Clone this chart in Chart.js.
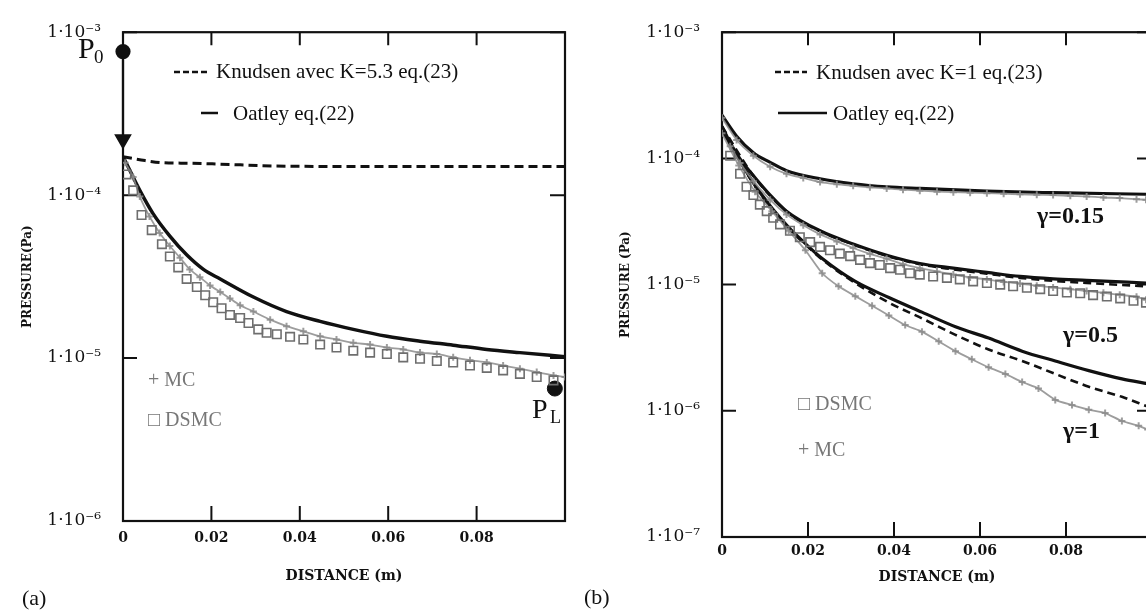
<!DOCTYPE html>
<html>
<head>
<meta charset="utf-8">
<script src="https://cdn.jsdelivr.net/npm/chart.js@4.4.1/dist/chart.umd.min.js"></script>
<style>
html, body { margin: 0; padding: 0; background: #fff; overflow: hidden; width: 1146px; height: 616px; }
#wrapA { position: absolute; left: 0; top: 0; width: 580px; height: 616px; }
#wrapB { position: absolute; left: 580px; top: 0; width: 600px; height: 616px; }
</style>
</head>
<body>
<div id="wrapA"><canvas id="chartA" width="580" height="616"></canvas></div>
<div id="wrapB"><canvas id="chartB" width="600" height="616"></canvas></div>
<script>
// axis ticks
const xTicks = [0, 0.02, 0.04, 0.06, 0.08, 0.1];
const xTickLabels = ['0', '0.02', '0.04', '0.06', '0.08', ''];
const yTicksA = [1e-6, 1e-5, 1e-4, 1e-3];
const yTickLabelsA = ['1·10⁻⁶', '1·10⁻⁵', '1·10⁻⁴', '1·10⁻³'];
const yTicksB = [1e-7, 1e-6, 1e-5, 1e-4, 1e-3];
const yTickLabelsB = ['1·10⁻⁷', '1·10⁻⁶', '1·10⁻⁵', '1·10⁻⁴', '1·10⁻³'];

// panel (a) : Knudsen K=5.3
const knudsenA_x = [0, 0.005, 0.009, 0.015, 0.022, 0.034, 0.05, 0.07, 0.1];
const knudsenA_p = [1.72e-4, 1.63e-4, 1.58e-4, 1.57e-4, 1.55e-4, 1.51e-4, 1.5e-4, 1.5e-4, 1.5e-4];
// panel (a) : Oatley
const oatleyA_x = [0, 0.0005, 0.0038, 0.0068, 0.0106, 0.0144, 0.0182, 0.022, 0.0295, 0.037, 0.0446, 0.0521, 0.0597, 0.0672, 0.0747, 0.0823, 0.0898, 0.1];
const oatleyA_p = [1.72e-4, 1.62e-4, 1.07e-4, 7.7e-5, 5.6e-5, 4.3e-5, 3.5e-5, 3.06e-5, 2.37e-5, 1.93e-5, 1.68e-5, 1.5e-5, 1.36e-5, 1.27e-5, 1.2e-5, 1.13e-5, 1.08e-5, 1.02e-5];
// panel (a) : MC
const mcA_x = [0.0005, 0.0023, 0.0038, 0.006, 0.0083, 0.0106, 0.0129, 0.0151, 0.0174, 0.0197, 0.022, 0.0242, 0.0265, 0.0295, 0.0333, 0.037, 0.0408, 0.0446, 0.0483, 0.0521, 0.0559, 0.0597, 0.0634, 0.0672, 0.071, 0.0747, 0.0785, 0.0823, 0.086, 0.0898, 0.0936, 0.0974, 0.1];
const mcA_p = [1.58e-4, 1.29e-4, 9.8e-5, 7.4e-5, 5.85e-5, 4.87e-5, 4.13e-5, 3.5e-5, 3.13e-5, 2.79e-5, 2.54e-5, 2.32e-5, 2.11e-5, 1.93e-5, 1.72e-5, 1.57e-5, 1.46e-5, 1.36e-5, 1.3e-5, 1.24e-5, 1.21e-5, 1.16e-5, 1.13e-5, 1.08e-5, 1.06e-5, 1.01e-5, 9.7e-6, 9.4e-6, 9.0e-6, 8.6e-6, 8.2e-6, 7.83e-6, 7.65e-6];
// panel (a) : DSMC
const dsmcA_x = [0.0008, 0.0023, 0.0042, 0.0065, 0.0088, 0.0106, 0.0125, 0.0144, 0.0167, 0.0186, 0.0204, 0.0223, 0.0242, 0.0265, 0.0284, 0.0306, 0.0325, 0.0348, 0.0378, 0.0408, 0.0446, 0.0483, 0.0521, 0.0559, 0.0597, 0.0634, 0.0672, 0.071, 0.0747, 0.0785, 0.0823, 0.086, 0.0898, 0.0936, 0.0974];
const dsmcA_p = [1.34e-4, 1.07e-4, 7.55e-5, 6.1e-5, 5.0e-5, 4.2e-5, 3.6e-5, 3.06e-5, 2.73e-5, 2.43e-5, 2.2e-5, 2.02e-5, 1.84e-5, 1.76e-5, 1.64e-5, 1.5e-5, 1.43e-5, 1.4e-5, 1.35e-5, 1.3e-5, 1.21e-5, 1.16e-5, 1.11e-5, 1.08e-5, 1.06e-5, 1.01e-5, 9.9e-6, 9.6e-6, 9.4e-6, 9.0e-6, 8.7e-6, 8.4e-6, 8.0e-6, 7.65e-6, 7.3e-6];
// panel (a) : P0 arrow and PL
const arrowA_x = [0, 0];
const arrowA_p = [7.6e-4, 2.2e-4];
const pointPL_x = [0.0977];
const pointPL_p = [6.5e-6];

// panel (b) : gamma = 0.15
const oatleyB15_x = [0, 0.0034, 0.0073, 0.0112, 0.015, 0.0228, 0.0305, 0.0383, 0.046, 0.0616, 0.077, 0.0986];
const oatleyB15_p = [2.2e-4, 1.5e-4, 1.11e-4, 9.3e-5, 8.0e-5, 6.9e-5, 6.3e-5, 5.95e-5, 5.78e-5, 5.5e-5, 5.35e-5, 5.2e-5];
const mcB15_x = [0, 0.0034, 0.0073, 0.0112, 0.015, 0.0189, 0.0228, 0.0267, 0.0305, 0.0344, 0.0383, 0.0421, 0.046, 0.05, 0.0538, 0.0577, 0.0616, 0.0655, 0.0693, 0.0732, 0.077, 0.081, 0.0848, 0.0887, 0.0925, 0.0964, 0.0986];
const mcB15_p = [2.1e-4, 1.4e-4, 1.05e-4, 8.6e-5, 7.55e-5, 7.0e-5, 6.5e-5, 6.25e-5, 6.07e-5, 5.9e-5, 5.78e-5, 5.65e-5, 5.55e-5, 5.45e-5, 5.4e-5, 5.35e-5, 5.3e-5, 5.25e-5, 5.2e-5, 5.15e-5, 5.13e-5, 5.05e-5, 5.0e-5, 4.9e-5, 4.85e-5, 4.75e-5, 4.7e-5];
// panel (b) : gamma = 0.5
const oatleyB05_x = [0, 0.0019, 0.0042, 0.0073, 0.0112, 0.015, 0.0228, 0.0305, 0.0383, 0.046, 0.0538, 0.0616, 0.0693, 0.077, 0.0848, 0.0986];
const oatleyB05_p = [1.79e-4, 1.33e-4, 9.9e-5, 7.3e-5, 5.13e-5, 3.82e-5, 2.67e-5, 2.1e-5, 1.71e-5, 1.47e-5, 1.35e-5, 1.25e-5, 1.16e-5, 1.11e-5, 1.08e-5, 1.03e-5];
const knudsenB05_x = [0, 0.0073, 0.015, 0.0228, 0.0305, 0.0383, 0.046, 0.0538, 0.0616, 0.0693, 0.077, 0.0848, 0.0986];
const knudsenB05_p = [1.79e-4, 7.3e-5, 3.8e-5, 2.65e-5, 2.08e-5, 1.69e-5, 1.45e-5, 1.32e-5, 1.22e-5, 1.13e-5, 1.07e-5, 1.03e-5, 9.7e-6];
const mcB05_x = [0.0019, 0.0042, 0.0073, 0.0112, 0.015, 0.0189, 0.0228, 0.0267, 0.0305, 0.0344, 0.0383, 0.0421, 0.046, 0.05, 0.0538, 0.0577, 0.0616, 0.0655, 0.0693, 0.0732, 0.077, 0.081, 0.0848, 0.0887, 0.0925, 0.0964, 0.0986];
const mcB05_p = [1.25e-4, 9.2e-5, 6.6e-5, 4.7e-5, 3.6e-5, 2.95e-5, 2.5e-5, 2.2e-5, 1.95e-5, 1.75e-5, 1.6e-5, 1.45e-5, 1.35e-5, 1.27e-5, 1.2e-5, 1.14e-5, 1.1e-5, 1.05e-5, 1.02e-5, 9.8e-6, 9.5e-6, 9.2e-6, 8.9e-6, 8.6e-6, 8.3e-6, 8.0e-6, 7.6e-6];
const dsmcB_x = [0.0019, 0.0042, 0.0057, 0.0073, 0.0088, 0.0104, 0.0119, 0.0135, 0.0158, 0.0181, 0.0205, 0.0228, 0.0251, 0.0274, 0.0298, 0.0321, 0.0344, 0.0367, 0.0391, 0.0414, 0.0437, 0.046, 0.0491, 0.0523, 0.0553, 0.0584, 0.0616, 0.0647, 0.0677, 0.0709, 0.074, 0.077, 0.0802, 0.0833, 0.0863, 0.0895, 0.0926, 0.0957, 0.0986];
const dsmcB_p = [1.05e-4, 7.55e-5, 5.96e-5, 5.13e-5, 4.3e-5, 3.82e-5, 3.39e-5, 3.0e-5, 2.67e-5, 2.37e-5, 2.17e-5, 1.99e-5, 1.87e-5, 1.76e-5, 1.68e-5, 1.57e-5, 1.48e-5, 1.43e-5, 1.35e-5, 1.31e-5, 1.23e-5, 1.2e-5, 1.16e-5, 1.13e-5, 1.1e-5, 1.06e-5, 1.03e-5, 1.0e-5, 9.7e-6, 9.45e-6, 9.2e-6, 8.9e-6, 8.65e-6, 8.55e-6, 8.25e-6, 8.05e-6, 7.77e-6, 7.45e-6, 7.2e-6];
// panel (b) : gamma = 1
const oatleyB1_x = [0, 0.0039, 0.0077, 0.0116, 0.0155, 0.0194, 0.0233, 0.031, 0.0388, 0.0465, 0.0543, 0.062, 0.0698, 0.0775, 0.0853, 0.093, 0.099];
const oatleyB1_p = [1.68e-4, 9.9e-5, 6.1e-5, 4.05e-5, 2.84e-5, 2.11e-5, 1.61e-5, 1.06e-5, 7.9e-6, 6.05e-6, 4.63e-6, 3.77e-6, 2.97e-6, 2.48e-6, 2.08e-6, 1.79e-6, 1.64e-6];
const knudsenB1_x = [0, 0.0039, 0.0077, 0.0116, 0.0155, 0.0194, 0.0233, 0.031, 0.0388, 0.0465, 0.0543, 0.062, 0.0698, 0.0775, 0.0853, 0.093, 0.099];
const knudsenB1_p = [1.68e-4, 9.8e-5, 6.0e-5, 4.0e-5, 2.8e-5, 2.08e-5, 1.58e-5, 1.03e-5, 7.2e-6, 5.4e-6, 4.0e-6, 3.06e-6, 2.48e-6, 1.96e-6, 1.55e-6, 1.29e-6, 1.08e-6];
const mcB1_x = [0, 0.0039, 0.0077, 0.0116, 0.0155, 0.0194, 0.0233, 0.0271, 0.031, 0.0349, 0.0388, 0.0426, 0.0465, 0.0504, 0.0543, 0.0581, 0.062, 0.0659, 0.0698, 0.0736, 0.0775, 0.0814, 0.0853, 0.0891, 0.093, 0.0969, 0.099];
const mcB1_p = [1.58e-4, 8.8e-5, 5.45e-5, 3.82e-5, 2.67e-5, 1.87e-5, 1.23e-5, 9.7e-6, 8.1e-6, 6.8e-6, 5.7e-6, 4.78e-6, 4.24e-6, 3.55e-6, 2.97e-6, 2.56e-6, 2.21e-6, 1.96e-6, 1.69e-6, 1.5e-6, 1.22e-6, 1.11e-6, 1.02e-6, 9.6e-7, 8.3e-7, 7.6e-7, 7.1e-7];

const pts = (xs, ps) => xs.map((x, i) => ({x: x, y: ps[i]}));
const ink = '#111';
const grayMC = 'rgba(140,140,140,0.85)';
const grayDS = '#6e6e6e';

// frame and inward ticks
const frameTicks = {
    id: 'frameTicks',
    beforeDatasetsDraw(chart) {
        const {ctx, chartArea: a, scales: {x, y}} = chart;
        ctx.save();
        ctx.strokeStyle = ink;
        ctx.lineWidth = 2.2;
        ctx.strokeRect(a.left, a.top, a.width, a.height);
        ctx.lineWidth = 2;
        ctx.beginPath();
        x.ticks.forEach(t => {
            if (t.value <= x.min || t.value >= x.max) return;
            const px = x.getPixelForValue(t.value);
            ctx.moveTo(px, a.bottom); ctx.lineTo(px, a.bottom - 15);
            ctx.moveTo(px, a.top); ctx.lineTo(px, a.top + 13);
        });
        y.ticks.forEach(t => {
            const py = y.getPixelForValue(t.value);
            ctx.moveTo(a.left, py); ctx.lineTo(a.left + 14, py);
            ctx.moveTo(a.right, py); ctx.lineTo(a.right - 15, py);
        });
        ctx.stroke();
        ctx.restore();
    }
};

// free text and legend samples
const notes = {
    id: 'notes',
    afterDraw(chart, args, opts) {
        const ctx = chart.ctx;
        ctx.save();
        (opts.lines || []).forEach(l => {
            ctx.beginPath();
            ctx.setLineDash(l.dash || []);
            ctx.lineWidth = l.w;
            ctx.strokeStyle = ink;
            ctx.moveTo(l.x1, l.y);
            ctx.lineTo(l.x2, l.y);
            ctx.stroke();
        });
        ctx.setLineDash([]);
        (opts.texts || []).forEach(t => {
            ctx.font = t.font;
            ctx.fillStyle = t.color || ink;
            ctx.textAlign = 'left';
            ctx.textBaseline = 'alphabetic';
            ctx.fillText(t.text, t.x, t.y);
        });
        ctx.restore();
    }
};

const tickFont = {family: 'DejaVu Serif', size: 14, weight: 'bold'};
const yFont = {family: 'DejaVu Serif', size: 17};

function makeScales(yMin, yTicks, yLabels, yWidth, xHeight, xLabelPad, xTitlePad, yTitle, yTitlePad) {
    return {
        x: {
            type: 'linear', min: 0, max: 0.1,
            afterBuildTicks: s => { s.ticks = xTicks.map(v => ({value: v})); },
            afterFit: s => { s.height = xHeight; },
            grid: {display: false, drawTicks: false},
            border: {display: false},
            ticks: {autoSkip: false, maxRotation: 0, padding: xLabelPad, color: ink, font: tickFont,
                callback: (v, i) => xTickLabels[i]},
            title: {display: true, text: 'DISTANCE (m)', color: ink, font: tickFont, padding: {top: 0, bottom: xTitlePad}}
        },
        y: {
            type: 'logarithmic', min: yMin, max: 1e-3,
            afterBuildTicks: s => { s.ticks = yTicks.map(v => ({value: v})); },
            afterFit: s => { s.width = yWidth; },
            grid: {display: false, drawTicks: false},
            border: {display: false},
            ticks: {autoSkip: false, padding: 22, color: ink, font: yFont,
                callback: (v, i) => yLabels[i]},
            title: {display: true, text: yTitle, color: ink, font: {family: 'DejaVu Serif', size: 12, weight: 'bold'}, padding: {top: yTitlePad, bottom: 0}}
        }
    };
}

function lineSet(data, width, dash) {
    return {type: 'line', data: data, borderColor: ink, borderWidth: width, borderDash: dash || [],
        pointRadius: 0, tension: 0.35, cubicInterpolationMode: 'monotone', fill: false};
}
function mcSet(data) {
    return {type: 'scatter', data: data, showLine: true, borderColor: grayMC, borderWidth: 1.8,
        pointStyle: 'cross', pointRadius: 3.5, pointBorderColor: grayMC, pointBorderWidth: 2, tension: 0.2};
}
function dsmcSet(data) {
    return {type: 'scatter', data: data, pointStyle: 'rect', pointRadius: 6,
        pointBorderColor: grayDS, pointBorderWidth: 1.6, pointBackgroundColor: 'rgba(255,255,255,0)'};
}

const serif = '"Liberation Serif", "DejaVu Serif", serif';

new Chart(document.getElementById('chartA'), {
    type: 'scatter',
    data: {
        datasets: [
            dsmcSet(pts(dsmcA_x, dsmcA_p)),
            mcSet(pts(mcA_x, mcA_p)),
            lineSet(pts(knudsenA_x, knudsenA_p), 3, [9, 5]),
            lineSet(pts(oatleyA_x, oatleyA_p), 3.5),
            {type: 'line', data: pts(arrowA_x, arrowA_p), borderColor: ink, borderWidth: 2.2, clip: false,
                pointStyle: ['circle', 'triangle'], pointRotation: [0, 180], pointRadius: [6.5, 8],
                pointBackgroundColor: ink, pointBorderColor: ink},
            {type: 'scatter', data: pts(pointPL_x, pointPL_p), clip: false, pointRadius: 7.5,
                pointBackgroundColor: ink, pointBorderColor: ink}
        ]
    },
    options: {
        responsive: false, animation: false,
        layout: {padding: {left: 0, top: 22, right: 15, bottom: 0}},
        scales: makeScales(1e-6, yTicksA, yTickLabelsA, 123, 95, 9, 31, 'PRESSURE(Pa)', 21),
        plugins: {
            legend: {display: false}, tooltip: {enabled: false},
            notes: {
                lines: [
                    {x1: 174, x2: 209, y: 72, w: 2.5, dash: [6, 3]},
                    {x1: 201, x2: 218, y: 113, w: 2.5}
                ],
                texts: [
                    {text: 'Knudsen avec K=5.3 eq.(23)', x: 216, y: 78, font: '21px ' + serif},
                    {text: 'Oatley eq.(22)', x: 233, y: 120, font: '21px ' + serif},
                    {text: '+ MC', x: 148, y: 386, font: '20px ' + serif, color: '#777'},
                    {text: '□ DSMC', x: 148, y: 426, font: '20px ' + serif, color: '#777'},
                    {text: 'P', x: 78, y: 58, font: '30px ' + serif},
                    {text: '0', x: 94, y: 63, font: '19px ' + serif},
                    {text: 'P', x: 532, y: 418, font: '28px ' + serif},
                    {text: 'L', x: 550, y: 423, font: '18px ' + serif},
                    {text: '(a)', x: 22, y: 605, font: '22px ' + serif}
                ]
            }
        }
    },
    plugins: [frameTicks, notes]
});

new Chart(document.getElementById('chartB'), {
    type: 'scatter',
    data: {
        datasets: [
            dsmcSet(pts(dsmcB_x, dsmcB_p)),
            mcSet(pts(mcB15_x, mcB15_p)),
            mcSet(pts(mcB05_x, mcB05_p)),
            mcSet(pts(mcB1_x, mcB1_p)),
            lineSet(pts(knudsenB05_x, knudsenB05_p), 2.6, [8, 5]),
            lineSet(pts(knudsenB1_x, knudsenB1_p), 2.6, [8, 5]),
            lineSet(pts(oatleyB15_x, oatleyB15_p), 3.2),
            lineSet(pts(oatleyB05_x, oatleyB05_p), 3.2),
            lineSet(pts(oatleyB1_x, oatleyB1_p), 3.2)
        ]
    },
    options: {
        responsive: false, animation: false,
        layout: {padding: {left: 0, top: 20, right: 28, bottom: 0}},
        scales: makeScales(1e-7, yTicksB, yTickLabelsB, 142, 79, 6, 30, 'PRESSURE (Pa)', 39),
        plugins: {
            legend: {display: false}, tooltip: {enabled: false},
            notes: {
                lines: [
                    {x1: 195, x2: 227, y: 72, w: 2.5, dash: [6, 3]},
                    {x1: 198, x2: 247, y: 113, w: 2.5}
                ],
                texts: [
                    {text: 'Knudsen avec K=1 eq.(23)', x: 236, y: 79, font: '21px ' + serif},
                    {text: 'Oatley eq.(22)', x: 253, y: 120, font: '21px ' + serif},
                    {text: '□ DSMC', x: 218, y: 410, font: '20px ' + serif, color: '#777'},
                    {text: '+ MC', x: 218, y: 456, font: '20px ' + serif, color: '#777'},
                    {text: 'γ=0.15', x: 457, y: 223, font: 'bold 24px ' + serif},
                    {text: 'γ=0.5', x: 483, y: 342, font: 'bold 24px ' + serif},
                    {text: 'γ=1', x: 483, y: 438, font: 'bold 24px ' + serif},
                    {text: '(b)', x: 4, y: 604, font: '22px ' + serif}
                ]
            }
        }
    },
    plugins: [frameTicks, notes]
});
</script>
</body>
</html>
